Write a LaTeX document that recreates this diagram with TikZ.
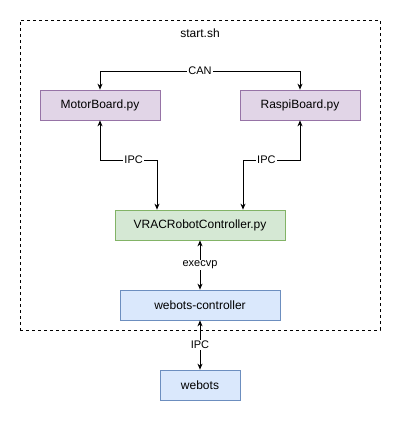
\documentclass[tikz,border=0pt]{standalone}
\usepackage{fontspec}
\setmainfont{Liberation Sans}
\usetikzlibrary{arrows.meta}
\definecolor{pfill}{HTML}{E1D5E7}\definecolor{pdraw}{HTML}{9673A6}
\definecolor{gfill}{HTML}{D5E8D4}\definecolor{gdraw}{HTML}{82B366}
\definecolor{bfill}{HTML}{DAE8FC}\definecolor{bdraw}{HTML}{6C8EBF}
\tikzset{
  box/.style={draw, line width=0.75pt, minimum height=30pt, inner sep=0pt, font=\fontsize{12pt}{14pt}\selectfont},
  purple box/.style={box, fill=pfill, draw=pdraw, minimum width=120pt},
  green box/.style={box, fill=gfill, draw=gdraw, minimum width=170pt},
  blue box/.style={box, fill=bfill, draw=bdraw},
  conn/.style={line width=0.75pt, {Stealth[length=6pt,width=5pt]}-{Stealth[length=6pt,width=5pt]}},
  lbl/.style={fill=white, inner sep=1pt, font=\fontsize{11pt}{13pt}\selectfont},
}
\begin{document}
\begin{tikzpicture}[x=1pt,y=-1pt]
\useasboundingbox (0,0) rectangle (401,421);
\node[draw, dash pattern=on 3pt off 3pt, line width=0.75pt, minimum width=360pt, minimum height=310pt, inner sep=0pt] (frame) at (200,175) {};
\node[font=\fontsize{12pt}{14pt}\selectfont] (title) at (200,33) {start.sh};
\node[purple box] (motor) at (100,105) {MotorBoard.py};
\node[purple box] (raspi) at (300,105) {RaspiBoard.py};
\node[green box] (vrac) at (200,225) {VRACRobotController.py};
\node[blue box, minimum width=160pt] (wc) at (200,305) {webots-controller};
\node[blue box, minimum width=80pt] (wb) at (200,385) {webots};
\coordinate (c1) at (100,71);
\coordinate (c2) at (300,71);
\draw[conn] (motor.north) -- (c1) -- node[lbl] {CAN} (c2) -- (raspi.north);
\coordinate (l1) at (100,160);
\coordinate (l2) at (157,160);
\draw[conn] (motor.south) -- (l1) -- node[lbl, pos=0.59] {IPC} (l2) -- (vrac.north -| l2);
\coordinate (r1) at (300,160);
\coordinate (r2) at (243,160);
\draw[conn] (raspi.south) -- (r1) -- node[lbl, pos=0.59] {IPC} (r2) -- (vrac.north -| r2);
\draw[conn] (vrac.south) -- node[lbl] {execvp} (wc.north);
\draw[conn] (wc.south) -- node[lbl] {IPC} (wb.north);
\end{tikzpicture}
\end{document}
